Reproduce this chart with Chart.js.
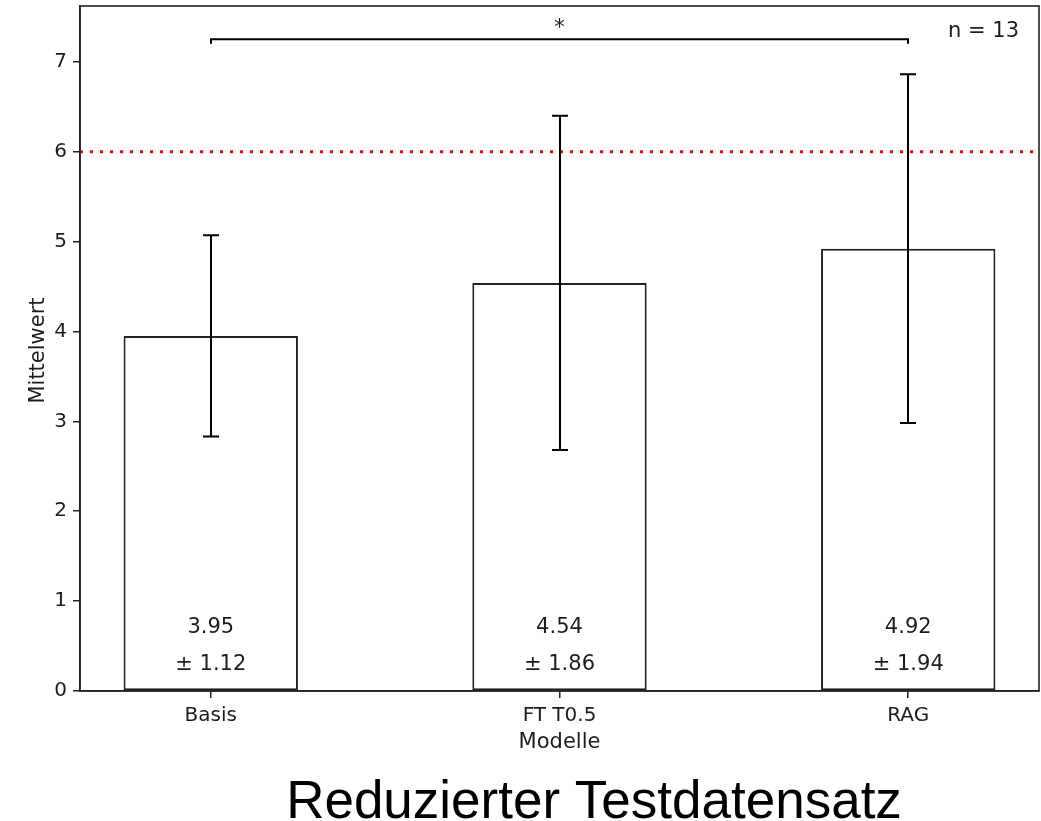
<!DOCTYPE html>
<html>
<head>
<meta charset="utf-8">
<script src="https://cdn.jsdelivr.net/npm/chart.js@4/dist/chart.umd.min.js"></script>
<style>
  html, body { margin: 0; padding: 0; background: #fff; }
  canvas { display: block; }
</style>
</head>
<body>
<canvas id="c" width="1041" height="821"></canvas>
<script>
// Kategorien und Messwerte
const modelle = ['Basis', 'FT T0.5', 'RAG'];
const mittelwerte = [3.95, 4.54, 4.92];
const standardabweichungen = [1.12, 1.86, 1.94];
const yTickWerte = [0, 1, 2, 3, 4, 5, 6, 7];
const schwellenwert = 6;
const signifikanzPaar = [0, 2];
const signifikanzHoehe = 7.25;
const signifikanzText = '*';
const stichprobe = 13;
const titel = 'Reduzierter Testdatensatz';
const xTitel = 'Modelle';
const yTitel = 'Mittelwert';

const FONT = "'DejaVu Sans', sans-serif";
const INK = '#1c1c1c';
const X_MIN = -0.375, X_MAX = modelle.length - 1 + 0.375;

const barData = mittelwerte.map((m, i) => ({ x: i, y: m }));
const lineData = [{ x: X_MIN, y: schwellenwert }, { x: X_MAX, y: schwellenwert }];

const fmt = v => v.toFixed(2);

const overlay = {
  id: 'overlay',
  afterDatasetsDraw(chart) {
    const { ctx, chartArea: a, scales: { x, y } } = chart;
    ctx.save();

    // Fehlerbalken (± Standardabweichung)
    ctx.strokeStyle = '#000';
    ctx.lineWidth = 2;
    mittelwerte.forEach((m, i) => {
      const px = Math.round(x.getPixelForValue(i));
      const top = y.getPixelForValue(m + standardabweichungen[i]);
      const bot = y.getPixelForValue(m - standardabweichungen[i]);
      ctx.beginPath();
      ctx.moveTo(px, top); ctx.lineTo(px, bot);
      ctx.moveTo(px - 8, top); ctx.lineTo(px + 8, top);
      ctx.moveTo(px - 8, bot); ctx.lineTo(px + 8, bot);
      ctx.stroke();
    });

    // Signifikanzklammer
    const x0 = Math.round(x.getPixelForValue(signifikanzPaar[0]));
    const x1 = Math.round(x.getPixelForValue(signifikanzPaar[1]));
    const yb = y.getPixelForValue(signifikanzHoehe);
    const yd = y.getPixelForValue(signifikanzHoehe - 0.05);
    ctx.beginPath();
    ctx.moveTo(x0, yd); ctx.lineTo(x0, yb); ctx.lineTo(x1, yb); ctx.lineTo(x1, yd);
    ctx.stroke();

    // Rahmen des Diagrammbereichs
    ctx.strokeStyle = '#222';
    ctx.lineWidth = 1.6;
    ctx.strokeRect(a.left, a.top, a.right - a.left, a.bottom - a.top);
    ctx.restore();
  },
  afterDraw(chart) {
    const { ctx, chartArea: a, scales: { x, y } } = chart;
    ctx.save();
    ctx.fillStyle = INK;

    // Mittelwert ± SD in den Balken
    ctx.font = `21px ${FONT}`;
    ctx.textAlign = 'center';
    ctx.textBaseline = 'alphabetic';
    mittelwerte.forEach((m, i) => {
      const px = x.getPixelForValue(i);
      ctx.fillText(fmt(m), px, a.bottom - 58);
      ctx.fillText('\u00b1 ' + fmt(standardabweichungen[i]), px, a.bottom - 21);
    });

    // Signifikanzstern
    const xm = (x.getPixelForValue(signifikanzPaar[0]) + x.getPixelForValue(signifikanzPaar[1])) / 2;
    ctx.fillText(signifikanzText, xm, y.getPixelForValue(signifikanzHoehe) - 5);

    // Stichprobengröße
    ctx.textAlign = 'right';
    ctx.fillText('n = ' + stichprobe, a.right - 20, a.top + 31);

    // Achsentitel
    ctx.textAlign = 'center';
    ctx.fillText(xTitel, (a.left + a.right) / 2, a.bottom + 57);
    ctx.save();
    ctx.translate(44, (a.top + a.bottom) / 2 + 2);
    ctx.rotate(-Math.PI / 2);
    ctx.fillText(yTitel, 0, 0);
    ctx.restore();

    // Titel unter dem Diagramm
    ctx.fillStyle = '#000';
    ctx.font = `53px 'Liberation Sans', Arial, sans-serif`;
    ctx.fillText(titel, 594, 818);
    ctx.restore();
  }
};

new Chart(document.getElementById('c'), {
  data: {
    datasets: [
      {
        type: 'line',
        data: lineData,
        borderColor: '#ff0000',
        borderWidth: 3,
        borderDash: [3, 7],
        pointRadius: 0,
        fill: false,
        order: 0
      },
      {
        type: 'bar',
        data: barData,
        backgroundColor: '#ffffff',
        borderColor: '#222',
        borderWidth: 2,
        borderSkipped: false,
        barPercentage: 0.5,
        categoryPercentage: 1,
        order: 1
      }
    ]
  },
  options: {
    responsive: false,
    animation: false,
    devicePixelRatio: 1,
    layout: { padding: { top: 6, right: 2, left: 0, bottom: 0 } },
    plugins: { legend: { display: false }, tooltip: { enabled: false } },
    scales: {
      x: {
        type: 'linear',
        min: X_MIN,
        max: X_MAX,
        offset: false,
        afterBuildTicks: s => { s.ticks = modelle.map((_, i) => ({ value: i })); },
        afterFit: s => { s.height = 130; s.paddingLeft = 0; s.paddingRight = 0; },
        ticks: {
          callback: v => modelle[v],
          font: { family: FONT, size: 20 },
          color: INK,
          padding: 6,
          maxRotation: 0,
          autoSkip: false
        },
        grid: { display: true, offset: false, drawOnChartArea: false, drawTicks: true, tickLength: 7, color: '#222', lineWidth: 1.5 },
        border: { display: true, color: '#222', width: 1.6 }
      },
      y: {
        type: 'linear',
        min: 0,
        max: 7.62,
        afterBuildTicks: s => { s.ticks = yTickWerte.map(v => ({ value: v })); },
        afterFit: s => { s.width = 80; s.paddingTop = 0; s.paddingBottom = 0; },
        ticks: {
          font: { family: FONT, size: 20 },
          color: INK,
          padding: 6
        },
        grid: { display: true, drawOnChartArea: false, drawTicks: true, tickLength: 7, color: '#222', lineWidth: 1.5 },
        border: { display: true, color: '#222', width: 1.6 }
      }
    }
  },
  plugins: [overlay]
});
</script>
</body>
</html>
